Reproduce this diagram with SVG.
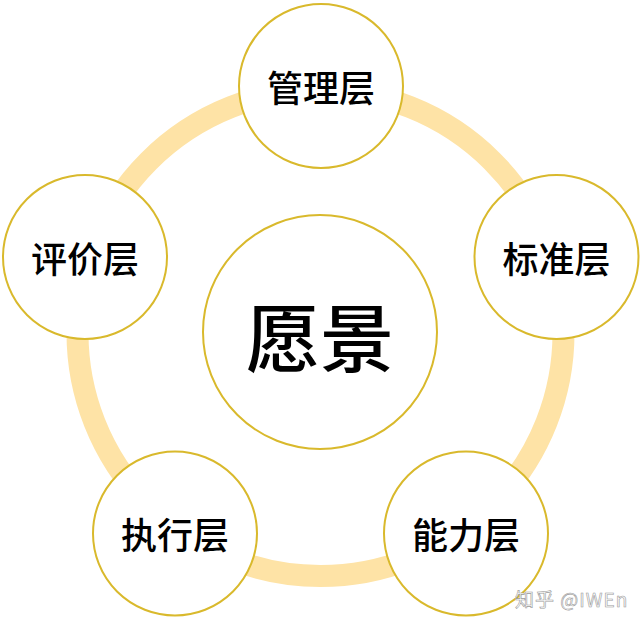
<svg xmlns="http://www.w3.org/2000/svg" width="642" height="626" viewBox="0 0 642 626">
<style>
.node{fill:#ffffff;stroke:#D9B92C;stroke-width:2}
.lbl{font-family:"Noto Sans CJK SC","Noto Sans CJK JP",sans-serif;font-size:36px;font-weight:500;fill:#000;text-anchor:middle;dominant-baseline:central}
.big{font-size:74px;font-weight:500}
.wm{font-family:"Noto Sans CJK SC","Liberation Sans",sans-serif;font-size:19px;letter-spacing:1px;fill:#ffffff;stroke:#9a9a9a;stroke-width:0.6}
</style>
<rect width="642" height="626" fill="#ffffff"/>
<g id="connectors">
<circle cx="320.5" cy="333" r="243" fill="none" stroke="#FEE3A6" stroke-width="22"/>
</g>
<g id="center">
<circle class="node" cx="320" cy="332" r="117"/>
<text class="lbl big" x="320" y="333">愿景</text>
</g>
<g id="top">
<circle class="node" cx="321" cy="86" r="82"/>
<text class="lbl" x="321" y="86">管理层</text>
</g>
<g id="right">
<circle class="node" cx="556.5" cy="257" r="82"/>
<text class="lbl" x="556.5" y="257">标准层</text>
</g>
<g id="bottomright">
<circle class="node" cx="466" cy="533.5" r="82"/>
<text class="lbl" x="466" y="533">能力层</text>
</g>
<g id="bottomleft">
<circle class="node" cx="175" cy="533.5" r="82"/>
<text class="lbl" x="175" y="533">执行层</text>
</g>
<g id="left">
<circle class="node" cx="85" cy="257" r="82"/>
<text class="lbl" x="85" y="257">评价层</text>
</g>
<text class="wm" x="515" y="607">知乎 @IWEn</text>
</svg>
